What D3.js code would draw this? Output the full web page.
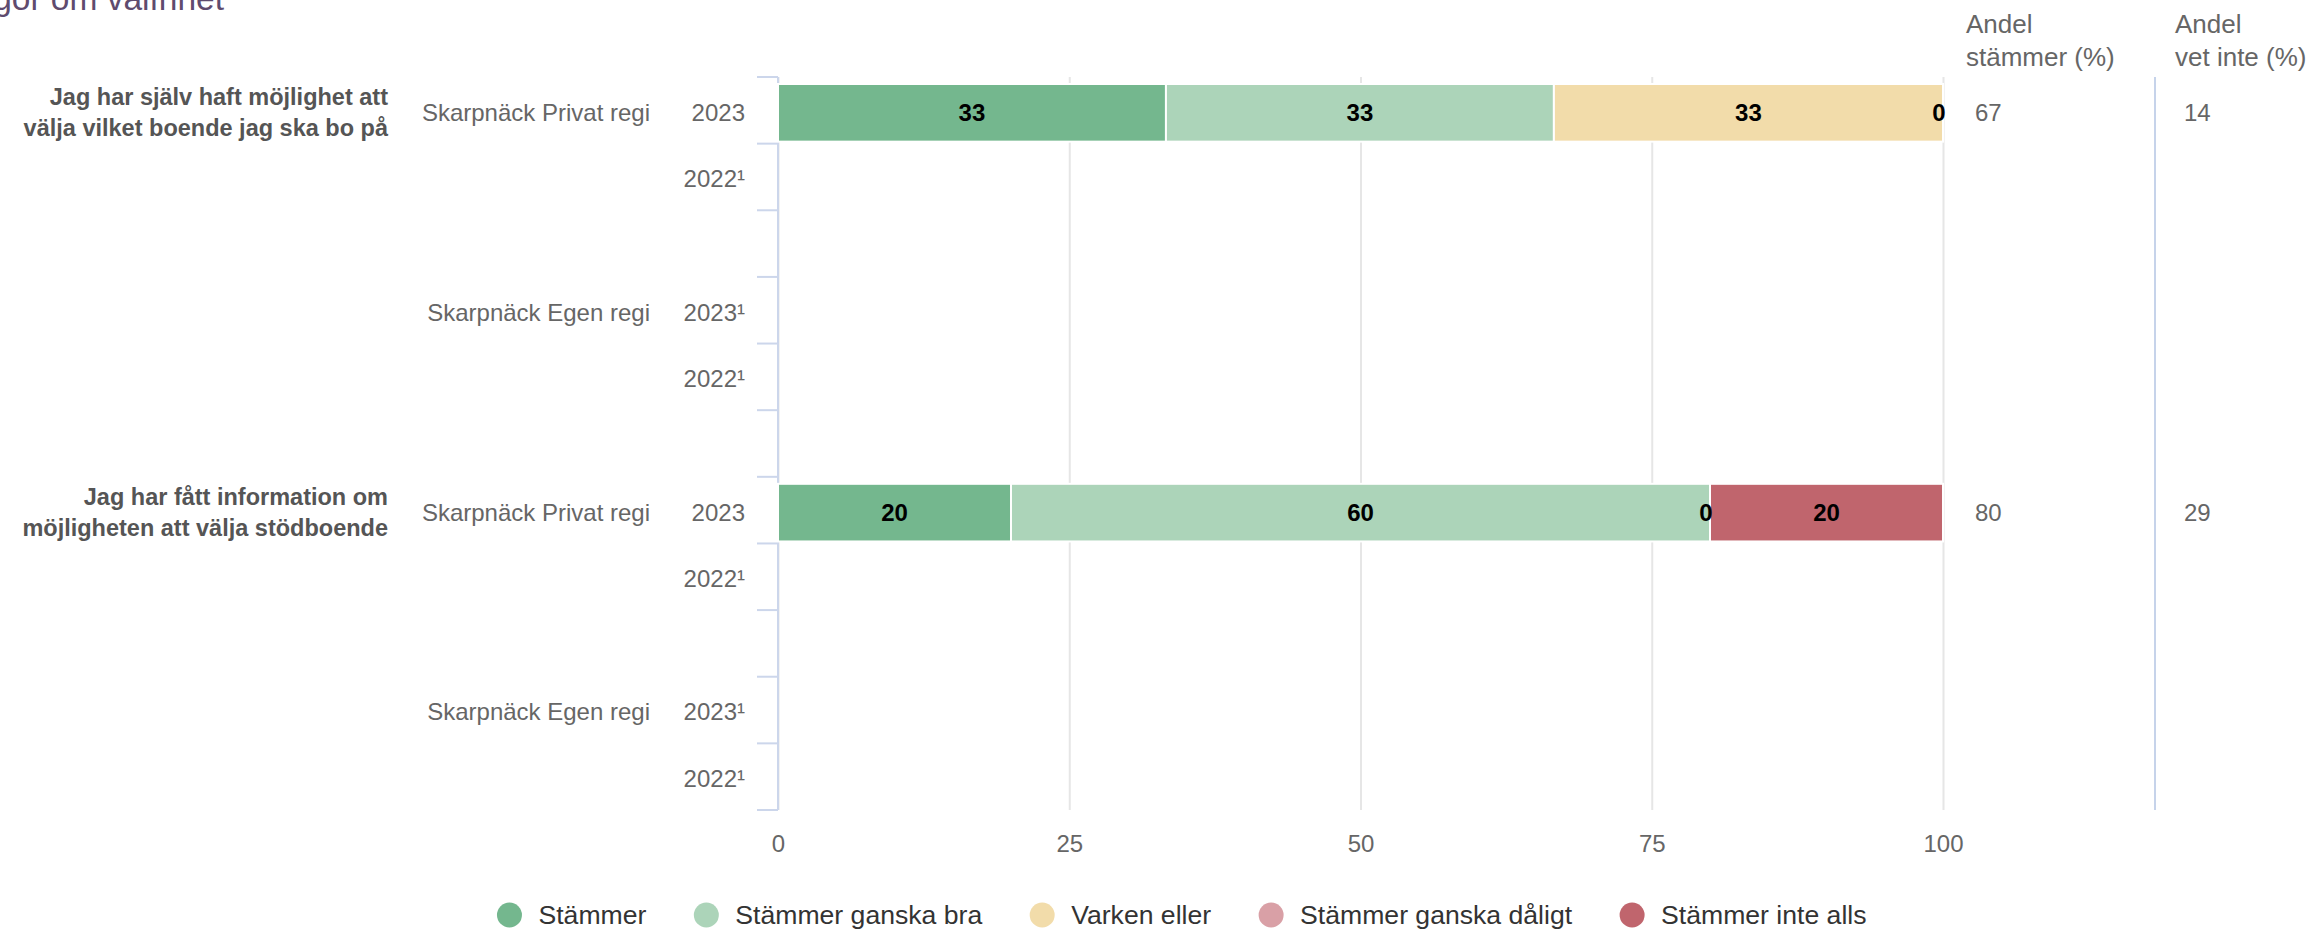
<!DOCTYPE html>
<html>
<head>
<meta charset="utf-8">
<script src="https://cdn.jsdelivr.net/npm/d3@7"></script>
<style>
  html, body { margin: 0; padding: 0; background: #fff; }
  svg { display: block; font-family: "Liberation Sans", Arial, Helvetica, sans-serif; }
</style>
</head>
<body>
<svg id="chart" width="2313" height="929"></svg>
<script>
// ---- data ----
const title = "Frågor om valfrihet";
const seriesNames = ["Stämmer", "Stämmer ganska bra", "Varken eller", "Stämmer ganska dåligt", "Stämmer inte alls"];
const seriesColors = ["#74b78e", "#acd4b9", "#f2dcaa", "#d9a0a6", "#c0656d"];

const questionLines = [
  ["Jag har själv haft möjlighet att", "välja vilket boende jag ska bo på"],
  ["Jag har fått information om", "möjligheten att välja stödboende"]
];
const units = ["Skarpnäck Privat regi", "Skarpnäck Egen regi"];

// one entry per data row: question index, unit index, year label
const rowQuestion = [0, 0, 0, 0, 1, 1, 1, 1];
const rowUnit     = [0, 0, 1, 1, 0, 0, 1, 1];
const rowYear     = ["2023", "2022¹", "2023¹", "2022¹", "2023", "2022¹", "2023¹", "2022¹"];

// shares (%) per answer, null where no result is reported
const stammer       = [33.3, null, null, null, 20, null, null, null];
const ganskaBra     = [33.3, null, null, null, 60, null, null, null];
const varkenEller   = [33.4, null, null, null, 0,  null, null, null];
const ganskaDaligt  = [0,    null, null, null, 0,  null, null, null];
const inteAlls      = [0,    null, null, null, 20, null, null, null];
const seriesValues = [stammer, ganskaBra, varkenEller, ganskaDaligt, inteAlls];

const andelStammer = [67, null, null, null, 80, null, null, null];
const andelVetInte = [14, null, null, null, 29, null, null, null];

const xTicks = [0, 25, 50, 75, 100];

// ---- layout ----
const svg = d3.select("#chart");
const plotLeft = 778, plotRight = 1943, plotTop = 77, plotBottom = 810;

// category slots: data rows plus an empty slot between unit groups
const slots = [];
rowYear.forEach((y, i) => {
  if (i > 0 && rowUnit[i] !== rowUnit[i - 1]) slots.push("gap" + i);
  slots.push("row" + i);
});

const x = d3.scaleLinear().domain([0, 100]).range([plotLeft, plotRight]);
const y = d3.scaleBand().domain(slots).range([plotTop, plotBottom]).padding(0);
const step = y.step();
const barTop = k => y(k) + step * 0.105;
const barH = step * 0.865;
const mid = k => y(k) + step / 2 + 2;

// title (its start runs past the top-left edge of the canvas)
svg.append("text")
  .attr("x", 224).attr("y", 10)
  .attr("text-anchor", "end")
  .attr("fill", "#5f4b6e")
  .attr("font-size", 33.5)
  .text(title);

// vertical gridlines
const grid = svg.append("g")
  .attr("transform", `translate(0,${plotBottom})`)
  .call(d3.axisBottom(x).tickValues(xTicks).tickSize(-(plotBottom - plotTop)).tickFormat(""));
grid.select(".domain").remove();
grid.selectAll("line").attr("stroke", "#e6e6e6").attr("stroke-width", 2);

// x tick labels
const xAxis = svg.append("g")
  .attr("transform", `translate(0,${plotBottom})`)
  .call(d3.axisBottom(x).tickValues(xTicks).tickSize(0).tickPadding(25));
xAxis.select(".domain").remove();
xAxis.selectAll("text")
  .attr("font-size", 24)
  .attr("font-family", "Liberation Sans, Arial, sans-serif")
  .attr("fill", "#666");

// y axis line and ticks at slot boundaries
const boundaries = slots.map(k => y(k)).concat([plotBottom]);
svg.append("line")
  .attr("x1", plotLeft).attr("x2", plotLeft)
  .attr("y1", plotTop).attr("y2", plotBottom)
  .attr("stroke", "#ccd6eb").attr("stroke-width", 2);
svg.selectAll(".ytick").data(boundaries).join("line")
  .attr("class", "ytick")
  .attr("x1", plotLeft - 21).attr("x2", plotLeft)
  .attr("y1", d => d).attr("y2", d => d)
  .attr("stroke", "#ccd6eb").attr("stroke-width", 2);

// stacked bars
const rows = rowYear.map((yr, i) => ({ i, key: "row" + i }));
const stackData = rows.map(r => {
  const o = { key: r.key, has: seriesValues[0][r.i] !== null };
  seriesNames.forEach((s, j) => { o[s] = seriesValues[j][r.i] ?? 0; });
  return o;
});
const stacked = d3.stack().keys(seriesNames)(stackData);

const barG = svg.append("g");
stacked.forEach((layer, j) => {
  barG.selectAll(".bar" + j)
    .data(layer.filter(d => d.data.has && d[1] - d[0] > 0))
    .join("rect")
    .attr("x", d => x(d[0]))
    .attr("width", d => x(d[1]) - x(d[0]))
    .attr("y", d => barTop(d.data.key))
    .attr("height", barH)
    .attr("fill", seriesColors[j])
    .attr("stroke", "#fff")
    .attr("stroke-width", 2);
});

// data labels (one label per position when segments collapse to zero width)
const fmt = d3.format(".0f");
const labelG = svg.append("g");
stackData.filter(d => d.has).forEach(d => {
  const used = new Set();
  stacked.forEach(layer => {
    const p = layer.find(e => e.data.key === d.key);
    const cx = x((p[0] + p[1]) / 2);
    const pos = Math.round(cx);
    if (used.has(pos)) return;
    used.add(pos);
    labelG.append("text")
      .attr("x", p[1] - p[0] === 0 ? cx - 4 : cx)
      .attr("y", mid(d.key))
      .attr("dy", "0.35em")
      .attr("text-anchor", "middle")
      .attr("font-size", 24)
      .attr("font-weight", "bold")
      .attr("fill", "#000")
      .text(fmt(p[1] - p[0]));
  });
});

// category labels: years, units, questions
const labG = svg.append("g");
rows.forEach(r => {
  labG.append("text")
    .attr("x", 745).attr("y", mid(r.key)).attr("dy", "0.35em")
    .attr("text-anchor", "end").attr("font-size", 24).attr("fill", "#666")
    .text(rowYear[r.i]);
  if (r.i === 0 || rowUnit[r.i] !== rowUnit[r.i - 1]) {
    labG.append("text")
      .attr("x", 650).attr("y", mid(r.key)).attr("dy", "0.35em")
      .attr("text-anchor", "end").attr("font-size", 24).attr("fill", "#666")
      .text(units[rowUnit[r.i]]);
  }
  if (r.i === 0 || rowQuestion[r.i] !== rowQuestion[r.i - 1]) {
    const t = labG.append("text")
      .attr("x", 388).attr("y", mid(r.key) - 15.5).attr("dy", "0.35em")
      .attr("text-anchor", "end").attr("font-size", 23.5).attr("font-weight", "bold").attr("fill", "#555");
    questionLines[rowQuestion[r.i]].forEach((ln, k) => {
      t.append("tspan").attr("x", 388).attr("dy", k === 0 ? "0.35em" : 31).text(ln);
    });
  }
});

// side columns
const colX = [1966, 2175];
const colHeads = [["Andel", "stämmer (%)"], ["Andel", "vet inte (%)"]];
const colValues = [andelStammer, andelVetInte];
colHeads.forEach((h, c) => {
  h.forEach((ln, k) => {
    svg.append("text")
      .attr("x", colX[c]).attr("y", 33 + k * 33)
      .attr("font-size", 26).attr("fill", "#666")
      .text(ln);
  });
  rows.forEach(r => {
    const v = colValues[c][r.i];
    if (v === null) return;
    svg.append("text")
      .attr("x", colX[c] + 9).attr("y", mid(r.key)).attr("dy", "0.35em")
      .attr("font-size", 24).attr("fill", "#666")
      .text(v);
  });
});
svg.append("line")
  .attr("x1", 2155).attr("x2", 2155)
  .attr("y1", plotTop).attr("y2", plotBottom)
  .attr("stroke", "#c6d3ea").attr("stroke-width", 2);

// legend
const legend = svg.append("g");
const legendGap = 48;
let lx = 0;
seriesNames.forEach((s, j) => {
  const g = legend.append("g");
  g.append("circle").attr("cx", 12).attr("cy", 0).attr("r", 12.5).attr("fill", seriesColors[j]);
  const t = g.append("text").attr("x", 41).attr("y", 0).attr("dy", "0.35em")
    .attr("font-size", 26.6).attr("fill", "#333").text(s);
  const w = 41 + t.node().getComputedTextLength();
  g.attr("transform", `translate(${lx},915)`);
  lx += w + legendGap;
});
const legendWidth = lx - legendGap;
legend.attr("transform", `translate(${1182 - legendWidth / 2},0)`);
</script>
</body>
</html>
